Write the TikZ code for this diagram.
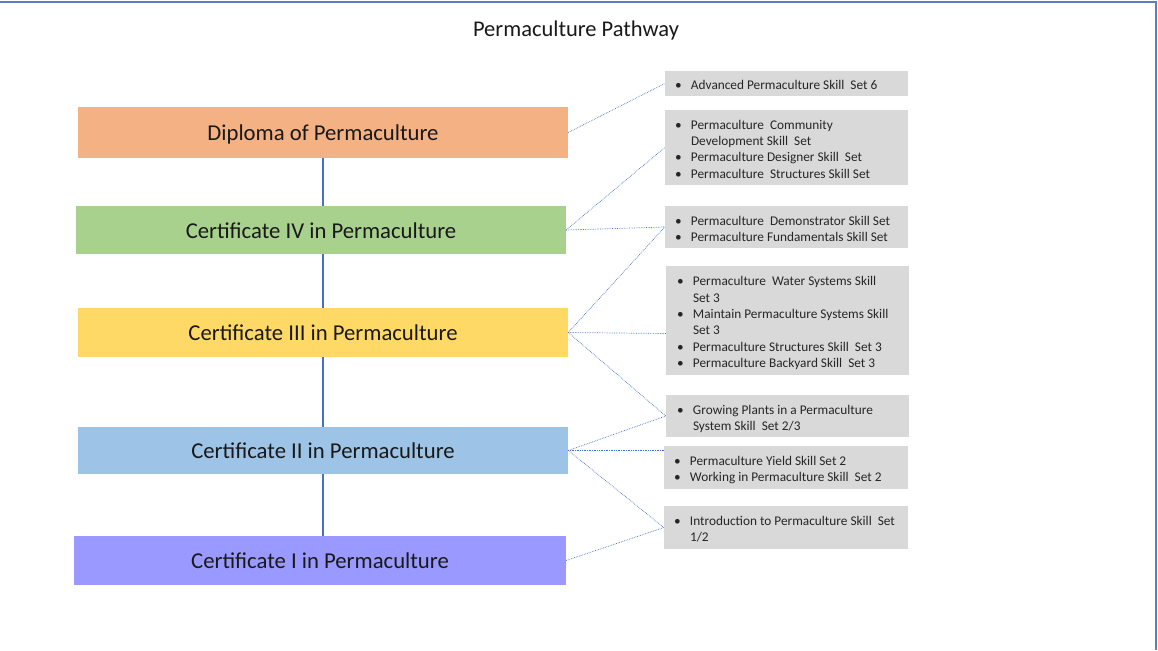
\documentclass[tikz,border=0pt]{standalone}
\usepackage{fontspec}
\setmainfont{Carlito}
\usetikzlibrary{calc}
\definecolor{frameblue}{HTML}{5A7DBE}
\definecolor{lineblue}{HTML}{4472C4}
\definecolor{cdip}{HTML}{F4B183}
\definecolor{cfour}{HTML}{A9D18E}
\definecolor{cthree}{HTML}{FFD966}
\definecolor{ctwo}{HTML}{9DC3E6}
\definecolor{cone}{HTML}{9999FF}
\definecolor{cgray}{HTML}{D9D9D9}
\newcommand\skilllist[1]{{\fontsize{13.3}{16.4}\selectfont\begin{tabular}{@{}p{16pt}@{}l@{}}#1\end{tabular}}}
\begin{document}
\begin{tikzpicture}[x=1pt,y=-1pt,
  level/.style={rectangle, inner sep=0pt, minimum width=490pt, text=black!90, text height=16.5pt, text depth=0pt, font=\fontsize{22.7}{26}\selectfont},
  skillbox/.style={rectangle, fill=cgray, inner sep=0pt, minimum width=243pt},
  skilltext/.style={anchor=west, inner sep=0pt, yshift=-3pt, text=black!85},
  link/.style={lineblue, densely dotted, line width=0.7pt},
  spine/.style={lineblue, line width=1.2pt}]
\useasboundingbox (0,0) rectangle (1158,650);
\draw[frameblue, line width=1.5pt] (0,2) -- (1156,2) -- (1156,650);
\node[inner sep=0pt, text=black!90, font=\fontsize{22.5}{26}\selectfont] (title) at (576,31) {Permaculture Pathway};
% level boxes
\node[level, fill=cdip, minimum height=51pt] (dip) at (323,132.5) {Diploma of Permaculture};
\node[level, fill=cfour, minimum height=48pt] (c4) at (321,230) {Certificate IV in Permaculture};
\node[level, fill=cthree, minimum height=49pt] (c3) at (323,332.5) {Certificate III in Permaculture};
\node[level, fill=ctwo, minimum height=47pt] (c2) at (323,450.5) {Certificate II in Permaculture};
\node[level, fill=cone, minimum height=49pt, minimum width=492pt] (c1) at (320,560.5) {Certificate I in Permaculture};
% spine
\draw[spine] (dip.south) -- (dip.south |- c4.north);
\draw[spine] (dip.south |- c4.south) -- (dip.south |- c3.north);
\draw[spine] (dip.south |- c3.south) -- (dip.south |- c2.north);
\draw[spine] (dip.south |- c2.south) -- (dip.south |- c1.north);
% skill boxes
\node[skillbox, minimum height=25pt] (s6) at (786.5,83.5) {};
\node[skillbox, minimum height=75pt] (s4a) at (786.5,147.5) {};
\node[skillbox, minimum height=42pt] (s4b) at (786.5,227) {};
\node[skillbox, minimum height=109pt] (s3) at (787.5,320.5) {};
\node[skillbox, minimum height=42pt] (s23) at (787.5,416) {};
\node[skillbox, minimum height=43pt, minimum width=244pt] (s2) at (786,467.5) {};
\node[skillbox, minimum height=43pt, minimum width=244pt] (s1) at (786,527.5) {};
\node[skilltext] (s6t) at ([xshift=10pt]s6.west) {\skilllist{\textbullet & Advanced Permaculture Skill\ \ Set 6\\}};
\node[skilltext] (s4at) at ([xshift=10pt]s4a.west) {\skilllist{\textbullet & Permaculture\ \ Community\\ & Development Skill\ \ Set\\ \textbullet & Permaculture Designer Skill\ \ Set\\ \textbullet & Permaculture\ \ Structures Skill Set\\}};
\node[skilltext] (s4bt) at ([xshift=10pt]s4b.west) {\skilllist{\textbullet & Permaculture\ \ Demonstrator Skill Set\\ \textbullet & Permaculture Fundamentals Skill Set\\}};
\node[skilltext] (s3t) at ([xshift=11pt]s3.west) {\skilllist{\textbullet & Permaculture\ \ Water Systems Skill\\ & Set 3\\ \textbullet & Maintain Permaculture Systems Skill\\ & Set 3\\ \textbullet & Permaculture Structures Skill\ \ Set 3\\ \textbullet & Permaculture Backyard Skill\ \ Set 3\\}};
\node[skilltext] (s23t) at ([xshift=11pt]s23.west) {\skilllist{\textbullet & Growing Plants in a Permaculture\\ & System Skill\ \ Set 2/3\\}};
\node[skilltext] (s2t) at ([xshift=10pt]s2.west) {\skilllist{\textbullet & Permaculture Yield Skill Set 2\\ \textbullet & Working in Permaculture Skill\ \ Set 2\\}};
\node[skilltext] (s1t) at ([xshift=10pt]s1.west) {\skilllist{\textbullet & Introduction to Permaculture Skill\ \ Set\\ & 1/2\\}};
% links
\draw[link] (dip.east) -- (s6.west);
\draw[link] (c4.east) -- (s4a.west);
\draw[link] (c4.east) -- (s4b.west);
\draw[link] (c3.east) -- (s4b.west);
\draw[link] (c3.east) -- ([yshift=-13pt]s3.west);
\draw[link] (c3.east) -- (s23.west);
\draw[link] (c2.east) -- (s23.west);
\draw[link] (c2.east) -- ([yshift=17pt]s2.west);
\draw[link] (c2.east) -- (s1.west);
\draw[link] (c1.east) -- (s1.west);
\end{tikzpicture}
\end{document}
